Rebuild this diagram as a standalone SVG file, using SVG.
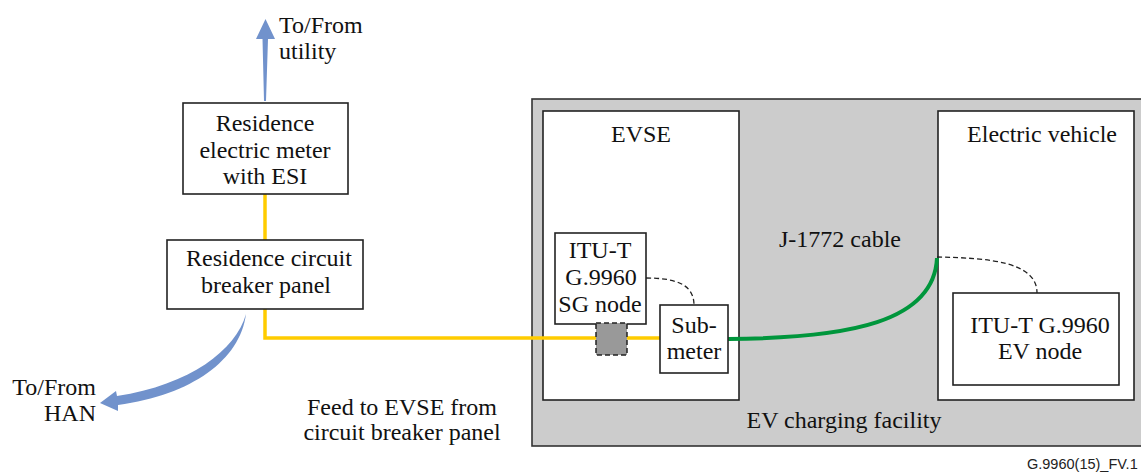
<svg xmlns="http://www.w3.org/2000/svg" width="1141" height="472" viewBox="0 0 1141 472">
<style>
  text { font-family: 'Liberation Serif', 'DejaVu Serif', serif; font-size: 24px; fill: #111; }
  .c { text-anchor: middle; }
  .box { fill: #fff; stroke: #222; stroke-width: 1.6; }
  .dash { fill: none; stroke: #222; stroke-width: 1.3; stroke-dasharray: 5 3; }
  .arrow { fill: #7192cc; stroke: none; }
</style>
<rect width="1141" height="472" fill="#fff"/>

<g id="facility">
  <rect x="532" y="99" width="620" height="347" fill="#cccccc" stroke="#333" stroke-width="1.6"/>
  <text x="844" y="428" class="c">EV charging facility</text>
</g>

<g id="evse">
  <rect x="543" y="111" width="196" height="289" class="box"/>
  <text x="641" y="142" class="c">EVSE</text>
</g>

<g id="ev">
  <rect x="938" y="111" width="196" height="289" class="box"/>
  <text x="1042" y="142" class="c">Electric vehicle</text>
</g>

<g id="connectors">
  <polyline points="265,194 265,240" fill="none" stroke="#ffcc00" stroke-width="3.5"/>
  <polyline points="265,309 265,338 660,338" fill="none" stroke="#ffcc00" stroke-width="3.5"/>
  <path d="M728,339 C 850,338 934,322 937,258" fill="none" stroke="#00963c" stroke-width="4"/>
  <path d="M646,278 C 675,278 694,284 694,305" class="dash"/>
  <path d="M937,257 C 990,258 1037,262 1037,293" class="dash"/>
  <path class="arrow" d="M264,101 L262.5,39 L256,39 L265.5,19 L275,39 L268,39 L266,101 Z"/>
  <path class="arrow" d="M246,314 C 236,350 190,385 117,396 L116,391 L100,403 L118,411 L118,405 C 192,395 240,360 246,314 Z"/>
  <text x="279" y="33">To/From</text>
  <text x="279" y="59">utility</text>
  <text x="96" y="395" text-anchor="end">To/From</text>
  <text x="96" y="421" text-anchor="end">HAN</text>
  <text x="402" y="415" class="c">Feed to EVSE from</text>
  <text x="402" y="440" class="c">circuit breaker panel</text>
  <text x="779" y="247">J-1772 cable</text>
</g>

<g id="meter">
  <rect x="183" y="103" width="165" height="91" class="box"/>
  <text x="265" y="131" class="c">Residence</text>
  <text x="265" y="158" class="c">electric meter</text>
  <text x="265" y="184" class="c">with ESI</text>
</g>

<g id="breaker">
  <rect x="167" y="240" width="196" height="69" class="box"/>
  <text x="269" y="266" class="c">Residence circuit</text>
  <text x="266" y="293" class="c">breaker panel</text>
</g>

<g id="sgnode">
  <rect x="555" y="233" width="91" height="91" class="box"/>
  <text x="600" y="258" class="c">ITU-T</text>
  <text x="601" y="285" class="c">G.9960</text>
  <text x="600" y="312" class="c">SG node</text>
</g>

<g id="coupler">
  <rect x="596" y="323" width="31" height="32" fill="#999" stroke="#222" stroke-width="1.5" stroke-dasharray="5 3"/>
</g>

<g id="submeter">
  <rect x="660" y="305" width="68" height="68" class="box"/>
  <text x="694" y="333" class="c">Sub-</text>
  <text x="694" y="359" class="c">meter</text>
</g>

<g id="evnode">
  <rect x="953" y="293" width="166" height="92" class="box"/>
  <text x="1040" y="333" class="c">ITU-T G.9960</text>
  <text x="1040" y="359" class="c">EV node</text>
</g>

<text x="1027" y="469" style="font-family: 'Liberation Sans', Arial, sans-serif; font-size: 14.5px; fill: #222;">G.9960(15)_FV.1</text>
</svg>
